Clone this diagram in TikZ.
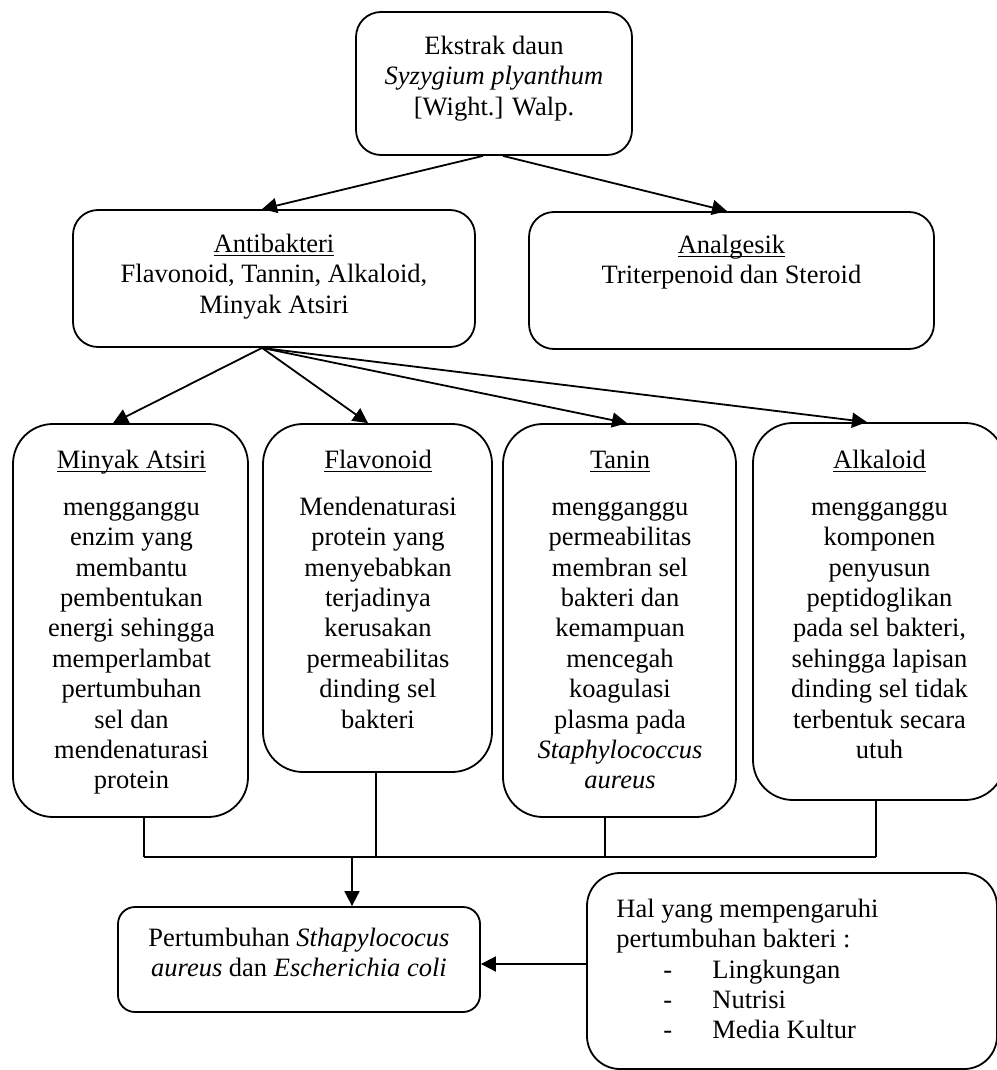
\documentclass[tikz,border=0pt]{standalone}
\usepackage{fontspec}
\setmainfont{Liberation Serif}
\usetikzlibrary{arrows.meta}
\newcommand{\headul}[1]{\underline{\smash{#1}}}
\begin{document}
\begin{tikzpicture}[x=0.5pt,y=-0.5pt,
  box/.style={draw, line width=0.9pt, inner sep=0pt},
  lbl/.style={inner sep=0pt, align=center, anchor=north,
    font=\fontsize{13.25pt}{15.2pt}\selectfont},
  conn/.style={line width=0.9pt},
  arr/.style={line width=0.9pt, -{Triangle[length=7.5pt,width=7.5pt]}}]
\useasboundingbox (0,0) rectangle (996,1070);

% boxes
\node[box, rounded corners=12.5pt, minimum width=138pt, minimum height=71.5pt] (top) at (494,83.5) {};
\node[box, rounded corners=12.5pt, minimum width=201pt, minimum height=68.5pt] (anti) at (274,278.5) {};
\node[box, rounded corners=12.5pt, minimum width=202.5pt, minimum height=68.5pt] (anal) at (731.5,280.5) {};
\node[box, rounded corners=20pt, minimum width=117.5pt, minimum height=196.5pt] (b1) at (130.5,620.5) {};
\node[box, rounded corners=20pt, minimum width=114.5pt, minimum height=174pt] (b2) at (377.5,598) {};
\node[box, rounded corners=20pt, minimum width=116.5pt, minimum height=196.5pt] (b3) at (619.5,620.5) {};
\node[box, rounded corners=20pt, minimum width=126pt, minimum height=188.5pt] (b4) at (879,611.5) {};
\node[box, rounded corners=8.5pt, minimum width=181pt, minimum height=52.5pt] (pert) at (299,959.5) {};
\node[box, rounded corners=16.5pt, minimum width=205pt, minimum height=98pt] (hal) at (792,971) {};

% texts
\node[lbl] (ttop) at (494,32.7) {\strut Ekstrak daun\\\textit{Syzygium plyanthum}\\{[}Wight.{]} Walp.};
\node[lbl] (tanti) at (274,230.7) {\strut\headul{Antibakteri}\\Flavonoid, Tannin, Alkaloid,\\Minyak Atsiri};
\node[lbl] (tanal) at (731.5,231.7) {\strut\headul{Analgesik}\\Triterpenoid dan Steroid};
\node[lbl] (tb1) at (131.5,446.7) {\strut\headul{Minyak Atsiri}\\[8.3pt]mengganggu\\enzim yang\\membantu\\pembentukan\\energi sehingga\\memperlambat\\pertumbuhan\\sel dan\\mendenaturasi\\protein};
\node[lbl] (tb2) at (378,446.7) {\strut\headul{Flavonoid}\\[8.3pt]Mendenaturasi\\protein yang\\menyebabkan\\terjadinya\\kerusakan\\permeabilitas\\dinding sel\\bakteri};
\node[lbl] (tb3) at (620,446.7) {\strut\headul{Tanin}\\[8.3pt]mengganggu\\permeabilitas\\membran sel\\bakteri dan\\kemampuan\\mencegah\\koagulasi\\plasma pada\\\textit{Staphylococcus}\\\textit{aureus}};
\node[lbl] (tb4) at (879.5,446.7) {\strut\headul{Alkaloid}\\[8.3pt]mengganggu\\komponen\\penyusun\\peptidoglikan\\pada sel bakteri,\\sehingga lapisan\\dinding sel tidak\\terbentuk secara\\utuh};
\node[lbl] (tpert) at (299,924.5) {\strut Pertumbuhan \textit{Sthapylococus}\\\textit{aureus} dan \textit{Escherichia coli}};
\node[lbl, align=left, anchor=north west] (thal) at (616,895.7) {\strut Hal yang mempengaruhi\\pertumbuhan bakteri :\\\makebox[48pt][l]{\hspace*{23.5pt}-}Lingkungan\\\makebox[48pt][l]{\hspace*{23.5pt}-}Nutrisi\\\makebox[48pt][l]{\hspace*{23.5pt}-}Media Kultur};

% arrows from the extract
\draw[arr] ([xshift=-5.5pt]top.south) -- ([xshift=-6pt]anti.north);
\draw[arr] ([xshift=4.5pt]top.south) -- ([xshift=-2.25pt]anal.north);

% arrows from the antibacterial box
\draw[arr] ([xshift=-6pt]anti.south) -- ([xshift=-8.75pt]b1.north);
\draw[arr] ([xshift=-6pt]anti.south) -- ([xshift=-4.75pt]b2.north);
\draw[arr] ([xshift=-6pt]anti.south) -- ([xshift=3.75pt]b3.north);
\draw[arr] ([xshift=-6pt]anti.south) -- ([xshift=-6pt]b4.north);

% collecting bus
\coordinate (j1) at (144,857);
\coordinate (j2) at (376,857);
\coordinate (j3) at (605,857);
\coordinate (j4) at (876,857);
\coordinate (jm) at (352,857);
\coordinate (hy) at (0,964);
\draw[conn] (b1.south -| j1) -- (j1);
\draw[conn] (b2.south -| j2) -- (j2);
\draw[conn] (b3.south -| j3) -- (j3);
\draw[conn] (b4.south -| j4) -- (j4);
\draw[conn] (j1) -- (j4);
\draw[arr] (jm) -- (pert.north -| jm);
\draw[arr] (hal.west |- hy) -- (pert.east |- hy);
\end{tikzpicture}
\end{document}
